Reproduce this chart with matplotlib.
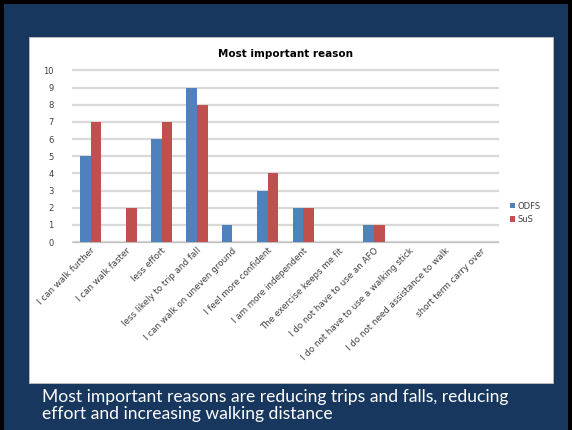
import matplotlib
matplotlib.use('Agg')
import matplotlib.pyplot as plt
import numpy as np
from matplotlib.patches import Rectangle

# ── Data ─────────────────────────────────────────────────────────────────────
categories = [
    'I can walk further', 'I can walk faster', 'less effort',
    'less likely to trip and fall', 'I can walk on uneven ground',
    'I feel more confident', 'I am more independent',
    'The exercise keeps me fit', 'I do not have to use an AFO',
    'I do not have to use a walking stick',
    'I do not need assistance to walk', 'short term carry over',
]
odfs = [5, 0, 6, 9, 1, 3, 2, 0, 1, 0, 0, 0]
sus = [7, 2, 7, 8, 0, 4, 2, 0, 1, 0, 0, 0]
series_names = ['ODFS', 'SuS']
caption = ('Most important reasons are reducing trips and falls, reducing\n'
           'effort and increasing walking distance')

navy = '#17375e'
blue = '#4f81bd'
red = '#c0504d'

W, H = 572, 430
fig = plt.figure(figsize=(W / 100, H / 100), dpi=100)
fig.patch.set_facecolor('black')

# slide background + white chart panel
fig.add_artist(Rectangle((4 / W, 0), (W - 8) / W, (H - 4) / H,
                         transform=fig.transFigure, facecolor=navy,
                         edgecolor='none', zorder=0))
fig.add_artist(Rectangle((29 / W, (H - 383) / H), (553 - 29) / W, (383 - 37) / H,
                         transform=fig.transFigure, facecolor='white',
                         edgecolor='#bfbfbf', linewidth=0.6, zorder=0))

# ── Plot ─────────────────────────────────────────────────────────────────────
left, right, top, bottom = 73, 498, 70.5, 242
ax = fig.add_axes([left / W, (H - bottom) / H, (right - left) / W, (bottom - top) / H])
ax.set_facecolor('none')

x = np.arange(len(categories))
bw = 0.3
ax.bar(x - bw / 2, odfs, bw, color=blue, label=series_names[0], zorder=3)
ax.bar(x + bw / 2, sus, bw, color=red, label=series_names[1], zorder=3)

ax.set_xlim(-0.5, len(categories) - 0.5)
ax.set_ylim(0, 10)
ax.set_yticks(range(0, 11))
ax.yaxis.grid(True, color='#d9d9d9', linewidth=1.6, zorder=0)
for gl in ax.get_ygridlines():
    gl.set_clip_on(False)
ax.set_axisbelow(True)
for s in ['top', 'right', 'left']:
    ax.spines[s].set_visible(False)
ax.spines['bottom'].set_color('#bfbfbf')
ax.tick_params(axis='y', length=0, labelsize=6, colors='#404040', pad=14)
ax.tick_params(axis='x', length=0, pad=3)
ax.set_xticks(x)
ax.set_xticklabels(categories, rotation=45, ha='right', rotation_mode='anchor',
                   fontsize=6.3, color='#404040')

ax.set_title('Most important reason', fontsize=7.5, fontweight='bold',
             color='black', pad=10)

leg = ax.legend(loc='center left', bbox_to_anchor=(1.01, 0.17), frameon=False,
                fontsize=6, handlelength=0.6, handleheight=0.6,
                handletextpad=0.3, labelspacing=0.5, labelcolor='#404040')

fig.text(42 / W, 1 - 405.5 / H, caption, color='white', fontsize=12.6,
         family=['Lato', 'DejaVu Sans'],
         va='center', ha='left', linespacing=1.1)

fig.savefig('out.png', dpi=100, facecolor=fig.get_facecolor())
